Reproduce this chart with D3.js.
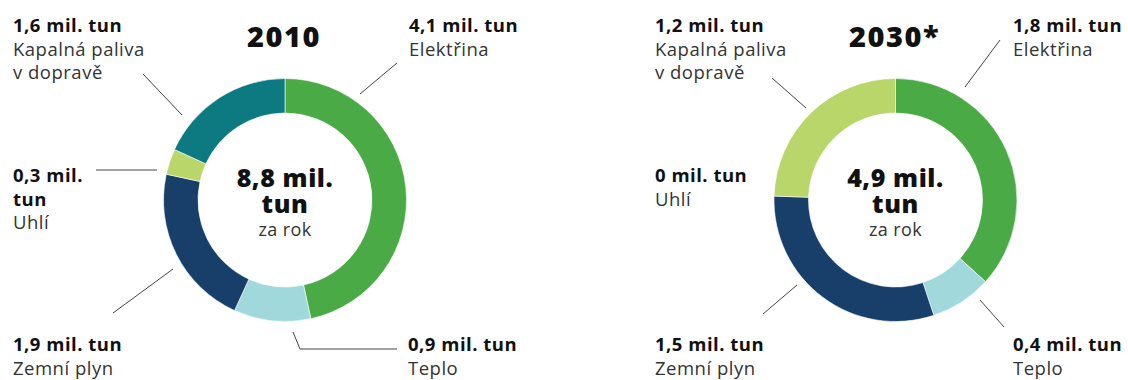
<!DOCTYPE html>
<html>
<head>
<meta charset="utf-8">
<script src="https://cdn.jsdelivr.net/npm/d3@7"></script>
<style>
  html, body { margin: 0; padding: 0; background: #fff; }
  svg { display: block; font-family: "Open Sans", Lato, sans-serif; }
</style>
</head>
<body>
<svg id="chart" width="1128" height="380"></svg>
<script>
// Emise podle sektorů (mil. tun za rok)
const categories = ["Elektřina", "Teplo", "Zemní plyn", "Uhlí", "Kapalná paliva v dopravě"];
const years = ["2010", "2030*"];
const values2010 = [4.1, 0.9, 1.9, 0.3, 1.6];
const values2030 = [1.8, 0.4, 1.5, 0, 1.2];
const totals = [8.8, 4.9];
const colors2010 = ["#4aaa46", "#a0d8dc", "#173f6a", "#b8d66a", "#0c7a80"];
const colors2030 = ["#4aaa46", "#a0d8dc", "#173f6a", "#b8d66a", "#b8d66a"];

const cz = d3.formatLocale({ decimal: ",", thousands: " ", grouping: [3], currency: ["", " Kč"] });
const fmt = cz.format(".2~r");

// Rozvržení: střed prstence, popisky (x, účaří, šířka zalomení) a vodicí čáry (relativně ke středu)
const layout = [
  {
    cx: 285, cy: 200,
    labels: [
      { x: 409, y: 32, w: 150, leader: [[112, -137], [75, -106]] },
      { x: 408, y: 351, w: 150, leader: [[112, 149], [15, 149], [8, 132]] },
      { x: 13, y: 351, w: 150, leader: [[-172, 113], [-112, 69]] },
      { x: 13, y: 182, w: 80, leader: [[-189, -30], [-128, -30]] },
      { x: 13, y: 32, w: 136, leader: [[-142, -126], [-103, -85]] }
    ]
  },
  {
    cx: 895.5, cy: 200,
    labels: [
      { x: 1013, y: 32, w: 150, leader: [[104.5, -160], [69.5, -113]] },
      { x: 1013, y: 351, w: 150, leader: [[108.5, 127], [84.5, 100]] },
      { x: 655, y: 351, w: 150, leader: [[-132.5, 114], [-98.5, 85]] },
      { x: 655, y: 182, w: 150, leader: null },
      { x: 655, y: 32, w: 136, leader: [[-123.5, -122], [-89.5, -92]] }
    ]
  }
];

const svg = d3.select("#chart");
const outerR = 121.5, innerR = 87;
const lineStep = 23.5;

const pie = d3.pie().sort(null).value(d => d.value);
const arc = d3.arc().innerRadius(innerR).outerRadius(outerR);

function wrapWords(textSel, str, width) {
  const words = str.split(" ");
  const lines = [];
  let cur = "";
  words.forEach(w => {
    const trial = cur ? cur + " " + w : w;
    textSel.text(trial);
    if (cur && textSel.node().getComputedTextLength() > width) {
      lines.push(cur);
      cur = w;
    } else {
      cur = trial;
    }
  });
  if (cur) lines.push(cur);
  textSel.text(null);
  return lines;
}

[values2010, values2030].forEach((vals, ci) => {
  const L = layout[ci];
  const colors = ci === 0 ? colors2010 : colors2030;
  const data = categories.map((c, i) => ({ name: c, value: vals[i], color: colors[i], idx: i }));

  const g = svg.append("g").attr("transform", `translate(${L.cx},${L.cy})`);

  g.selectAll("path.slice")
    .data(pie(data).filter(d => d.data.value > 0))
    .join("path")
    .attr("class", "slice")
    .attr("d", arc)
    .attr("fill", d => d.data.color)
    .attr("stroke", "#fff")
    .attr("stroke-width", 0.6);

  // Titulek roku
  svg.append("text")
    .attr("x", L.cx - 1)
    .attr("y", 47)
    .attr("text-anchor", "middle")
    .attr("font-size", 29)
    .attr("font-weight", 800)
    .attr("letter-spacing", 1.5)
    .attr("fill", "#111")
    .text(years[ci]);

  // Součet uprostřed
  const centerLines = [
    { s: fmt(totals[ci]) + " mil.", y: -13, size: 25, weight: 800, fill: "#111", ls: 0.6 },
    { s: "tun", y: 13, size: 25, weight: 800, fill: "#111", ls: 0.6 },
    { s: "za rok", y: 36, size: 18, weight: 400, fill: "#333", ls: 0.4 }
  ];
  centerLines.forEach(c => {
    g.append("text")
      .attr("x", 0).attr("y", c.y)
      .attr("text-anchor", "middle")
      .attr("font-size", c.size)
      .attr("font-weight", c.weight)
      .attr("letter-spacing", c.ls)
      .attr("fill", c.fill)
      .text(c.s);
  });

  // Vodicí čáry
  data.forEach((d, i) => {
    const lab = L.labels[i];
    if (!lab.leader) return;
    svg.append("path")
      .attr("d", d3.line()(lab.leader.map(p => [L.cx + p[0], L.cy + p[1]])))
      .attr("fill", "none")
      .attr("stroke", "#444")
      .attr("stroke-width", 1);
  });

  // Popisky
  data.forEach((d, i) => {
    const lab = L.labels[i];
    const t = svg.append("text").attr("x", lab.x).attr("y", lab.y)
      .attr("font-size", 18.5).attr("letter-spacing", 0.5);
    t.attr("font-weight", 700);
    const valueLines = wrapWords(t, fmt(d.value) + " mil. tun", lab.w);
    t.attr("font-weight", 400);
    const nameLines = wrapWords(t, d.name, lab.w);
    t.attr("font-weight", null);
    let k = 0;
    valueLines.forEach(s => {
      t.append("tspan").attr("x", lab.x).attr("y", lab.y + lineStep * k++)
        .attr("font-weight", 700).attr("fill", "#111").text(s);
    });
    nameLines.forEach(s => {
      t.append("tspan").attr("x", lab.x).attr("y", lab.y + lineStep * k++)
        .attr("font-weight", 400).attr("fill", "#333").text(s);
    });
  });
});
</script>
</body>
</html>
